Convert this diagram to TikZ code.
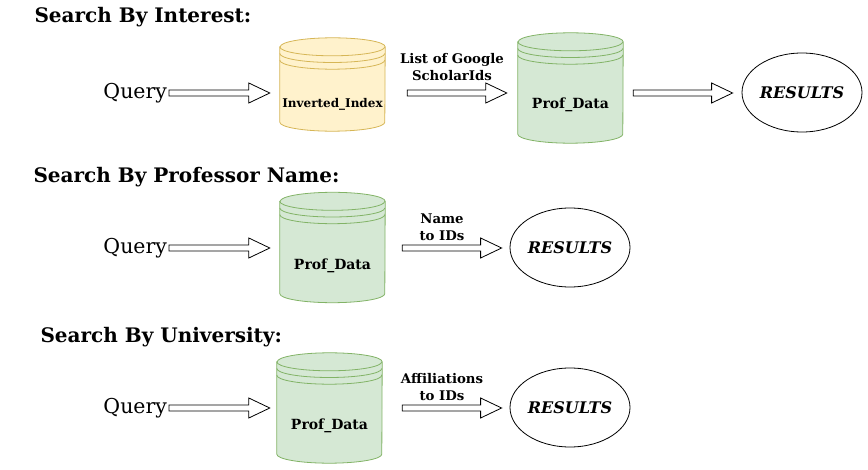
\documentclass[tikz,border=0pt]{standalone}
\usepackage{fontspec}
\setmainfont{DejaVu Serif}
\usetikzlibrary{positioning}
\usetikzlibrary{calc}
\usetikzlibrary{shapes.geometric}

\definecolor{idxfill}{HTML}{FFF2CC}
\definecolor{idxline}{HTML}{D6B656}
\definecolor{dbfill}{HTML}{D5E8D4}
\definecolor{dbline}{HTML}{82B366}

% cylinder drawn over the frame of a named node
\newcommand{\datastore}[2]{%
  \draw[line width=0.8pt, #2] ([yshift=-9pt]#1.north west) -- ([yshift=9pt]#1.south west)
    arc[start angle=180, end angle=360, x radius=52.5pt, y radius=9pt]
    -- ([yshift=-9pt]#1.north east)
    arc[start angle=0, end angle=180, x radius=52.5pt, y radius=9pt] -- cycle;
  \foreach \d in {9,15.7,22.4}
    \draw[line width=0.8pt, #2, fill=none] ([yshift=-\d pt]#1.north west)
      arc[start angle=180, end angle=360, x radius=52.5pt, y radius=9pt];
}
% hollow block arrow between two points
\newcommand{\fatarrow}[2]{%
  \draw[fill=white, line width=0.8pt] let \p1=#1, \p2=#2 in
    (\x1,\y1+3pt) -- (\x2-21pt,\y1+3pt) -- (\x2-21pt,\y1+10pt) -- (\x2,\y1)
    -- (\x2-21pt,\y1-10pt) -- (\x2-21pt,\y1-3pt) -- (\x1,\y1-3pt) -- cycle;
}

\begin{document}
\begin{tikzpicture}[x=1pt, y=1pt,
    title/.style={anchor=west, font=\fontsize{20}{24}\selectfont\bfseries},
    query/.style={anchor=east, font=\fontsize{20.5}{24}\selectfont},
    store/.style={minimum width=105pt, minimum height=110pt, inner sep=0pt},
    result/.style={ellipse, draw, line width=0.8pt, minimum width=120pt, minimum height=79pt, inner sep=0pt, font=\fontsize{16}{18}\selectfont\bfseries\itshape},
    lbl/.style={align=center, font=\fontsize{13.3}{16.5}\selectfont\bfseries}]
            \useasboundingbox (0,0) rectangle (868,469);

            % by interest
            \node[title] (t_interest) at (31,452) {Search By Interest:};
            \node[query] (q_1) at (170.5,376) {Query};
            \node[store, minimum height=93pt] (idx) at (332.5,384.5) {};
            \node[store] (pd_1) at (570.5,381) {};
            \node[result] (res_1) at (802,376.5) {RESULTS};
            \node[lbl] (l_ids) at (452,402) {List of Google\\ScholarIds};

            % by professor name
            \node[title] (t_name) at (30,292) {Search By Professor Name:};
            \node[query] (q_2) at (170.5,221) {Query};
            \node[store] (pd_2) at (332.5,221.5) {};
            \node[result] (res_2) at (570,221.5) {RESULTS};
            \node[lbl] (l_name) at (442,242) {Name\\to IDs};

            % by university
            \node[title] (t_uni) at (37,132) {Search By University:};
            \node[query] (q_3) at (170.5,61) {Query};
            \node[store] (pd_3) at (329.5,61) {};
            \node[result] (res_3) at (570,61.5) {RESULTS};
            \node[lbl] (l_aff) at (442,82) {Affiliations\\to IDs};

            \datastore{idx}{fill=idxfill, draw=idxline}
            \datastore{pd_1}{fill=dbfill, draw=dbline}
            \datastore{pd_2}{fill=dbfill, draw=dbline}
            \datastore{pd_3}{fill=dbfill, draw=dbline}
            \node[font=\fontsize{12}{14}\selectfont\bfseries] (idx_text) at ([yshift=-20pt]idx.center) {Inverted\_Index};
            \node[font=\fontsize{14}{16}\selectfont\bfseries] (pd_1_text) at ([yshift=-17pt]pd_1.center) {Prof\_Data};
            \node[font=\fontsize{14}{16}\selectfont\bfseries] (pd_2_text) at ([yshift=-18pt]pd_2.center) {Prof\_Data};
            \node[font=\fontsize{14}{16}\selectfont\bfseries] (pd_3_text) at ([yshift=-18pt]pd_3.center) {Prof\_Data};

            \fatarrow{($(q_1.east)+(-1.5,0)$)}{($(idx.west)+(-10,0)$)}
            \fatarrow{($(idx.east |- q_1.east)+(22,0)$)}{($(pd_1.west)+(-11,0)$)}
            \fatarrow{($(pd_1.east |- q_1.east)+(10,0)$)}{($(res_1.west)+(-9,0)$)}
            \fatarrow{($(q_2.east)+(-1.5,0)$)}{($(pd_2.west)+(-10,0)$)}
            \fatarrow{($(pd_2.east |- q_2.east)+(17,0)$)}{($(res_2.west)+(-8,0)$)}
            \fatarrow{($(q_3.east)+(-1.5,0)$)}{($(pd_3.west)+(-7,0)$)}
            \fatarrow{($(pd_3.east |- q_3.east)+(20,0)$)}{($(res_3.west)+(-8,0)$)}
        \end{tikzpicture}
\end{document}
